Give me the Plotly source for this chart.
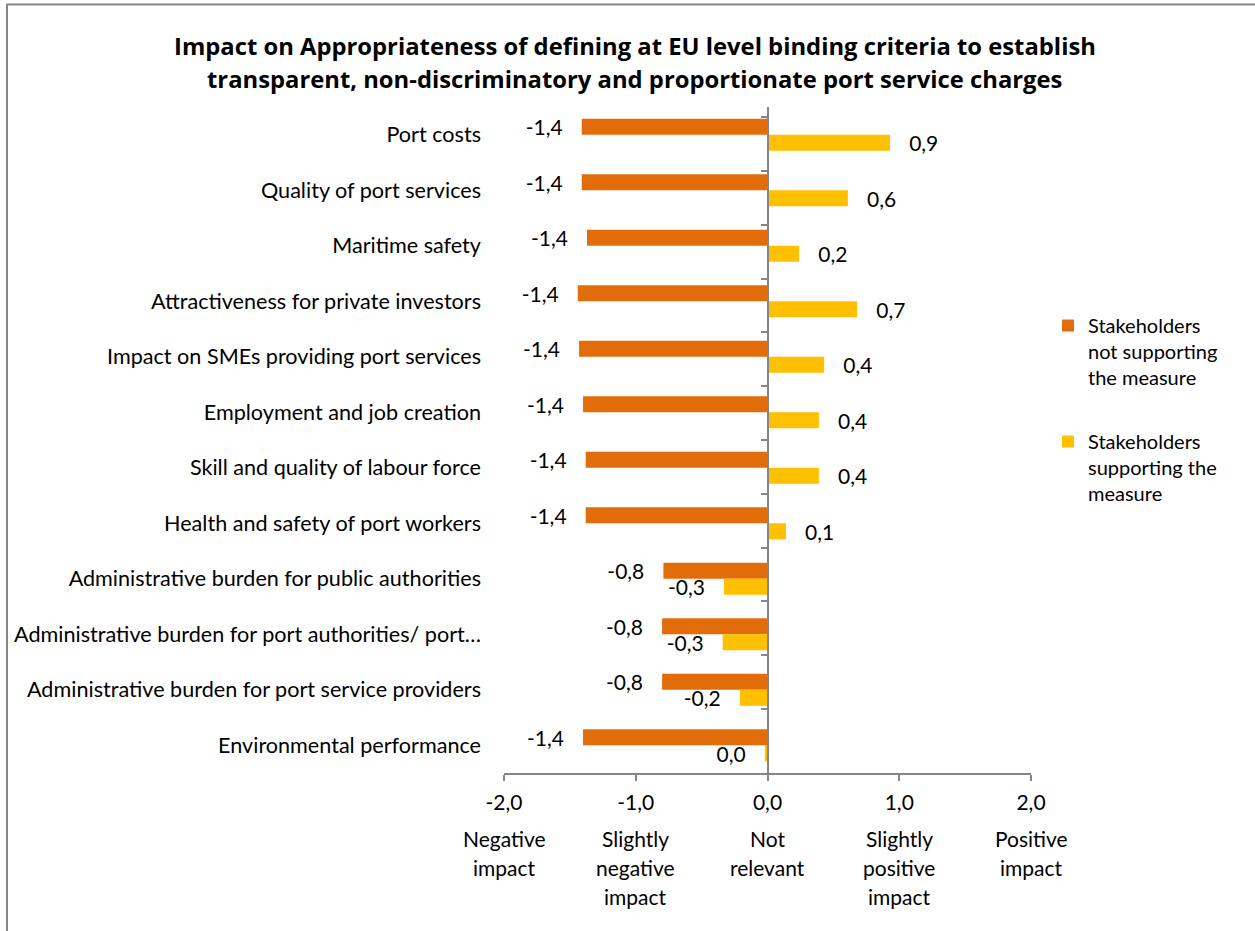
import plotly.graph_objects as go

# Impact areas, listed top to bottom
categories = [
    "Port costs",
    "Quality of port services",
    "Maritime safety",
    "Attractiveness for private investors",
    "Impact on SMEs providing port services",
    "Employment and job creation",
    "Skill and quality of labour force",
    "Health and safety of port workers",
    "Administrative burden for public authorities",
    "Administrative burden for port authorities/ port…",
    "Administrative burden for port service providers",
    "Environmental performance",
]

# Average scores per stakeholder group (-2 negative ... +2 positive)
not_supporting = [-1.41, -1.41, -1.37, -1.44, -1.43, -1.40, -1.38, -1.38, -0.79, -0.80, -0.80, -1.40]
supporting = [0.93, 0.61, 0.24, 0.68, 0.43, 0.39, 0.39, 0.14, -0.33, -0.34, -0.21, -0.02]

series_names = ["Stakeholders<br>not supporting<br>the measure",
                "Stakeholders<br>supporting the<br>measure"]

title_lines = [
    "Impact on Appropriateness of defining at EU level binding criteria to establish",
    "transparent, non-discriminatory and proportionate port service charges",
]

tick_values = [-2, -1, 0, 1, 2]
tick_numbers = ["-2,0", "-1,0", "0,0", "1,0", "2,0"]
tick_meanings = [
    ["Negative", "impact"],
    ["Slightly", "negative", "impact"],
    ["Not", "relevant"],
    ["Slightly", "positive", "impact"],
    ["Positive", "impact"],
]

ORANGE = "#E36C0A"
YELLOW = "#FFC000"
GREY = "#868686"
FONT = "Lato"
TITLE_FONT = "Open Sans"
NBSP = "\u00a0"

# pixel geometry of the plotting area
W, H = 1255, 931
L, R, T, B = 504, 224, 107, 158
PW, PH = W - L - R, H - T - B


def fmt(v):
    s = f"{v:.1f}".replace(".", ",")
    if s == "-0,0":
        s = "0,0"
    return s


def labels(values):
    out = []
    for v in values:
        s = fmt(v)
        out.append(s + NBSP * 3 if v < 0 else NBSP * 3 + s)
    return out


fig = go.Figure()

for vals, name, color, grp in [
    (not_supporting, series_names[0], ORANGE, "a"),
    (supporting, series_names[1], YELLOW, "b"),
]:
    fig.add_trace(go.Bar(
        x=vals, y=categories, orientation="h", name=name,
        marker=dict(color=color, line=dict(width=0)),
        text=labels(vals), textposition="outside", constraintext="none",
        textfont=dict(family=FONT, size=21, color="#000000"),
        cliponaxis=False, legendgroup=grp,
    ))

# invisible helper so the zero-positioned category axis gets its categories
fig.add_trace(go.Scatter(
    x=[0] * len(categories), y=categories, yaxis="y2", mode="markers",
    marker=dict(opacity=0), showlegend=False, hoverinfo="skip",
))

annotations = []
for xv, lines in zip(tick_values, tick_meanings):
    for i, line in enumerate(lines):
        annotations.append(dict(
            x=xv, y=0, xref="x", yref="paper", text=line, showarrow=False,
            xanchor="center", yanchor="middle", yshift=-(65 + 29 * i),
            font=dict(family=FONT, size=21, color="#000000"),
        ))

# two-line chart title
for i, line in enumerate(title_lines):
    annotations.append(dict(
        x=(634.5 - L) / PW, y=1, xref="paper", yref="paper", text=line,
        showarrow=False, xanchor="center", yanchor="middle",
        yshift=T - (46 + 33 * i),
        font=dict(family=TITLE_FONT, size=23.8, color="#000000", weight="bold"),
    ))

fig.update_layout(
    width=W, height=H,
    margin=dict(l=L, r=R, t=T, b=B, autoexpand=False),
    paper_bgcolor="white", plot_bgcolor="white",
    barmode="group", bargap=0.42, bargroupgap=0,
    xaxis=dict(
        range=[-2, 2], tickvals=tick_values, ticktext=tick_numbers,
        ticks="outside", ticklen=6, tickwidth=2, tickcolor=GREY,
        showline=True, linecolor=GREY, linewidth=2,
        showgrid=False, zeroline=False, ticklabelstandoff=4,
        tickfont=dict(family=FONT, size=21, color="#000000"),
    ),
    yaxis=dict(
        type="category", categoryorder="array", categoryarray=categories,
        autorange="reversed", showgrid=False, zeroline=False, showline=False,
        ticks="", ticklabelstandoff=22,
        tickfont=dict(family=FONT, size=21.6, color="#000000"),
    ),
    yaxis2=dict(
        type="category", categoryorder="array", categoryarray=categories,
        autorange="reversed", overlaying="y", anchor="free", position=0.5,
        side="left", showticklabels=False, showgrid=False, zeroline=False,
        showline=True, linecolor=GREY, linewidth=2,
        ticks="outside", tickson="boundaries", ticklen=6, tickwidth=2, tickcolor=GREY,
    ),
    legend=dict(
        x=(1048 - L) / PW, y=(H - B - 306) / PH, xanchor="left", yanchor="top",
        font=dict(family=FONT, size=20, color="#000000"),
        tracegroupgap=35, valign="top", traceorder="grouped",
        bgcolor="rgba(0,0,0,0)",
    ),
    annotations=annotations,
    shapes=[dict(
        type="rect", xref="paper", yref="paper",
        x0=(7 - L) / PW, x1=(1300 - L) / PW,
        y0=(H - B - 1000) / PH, y1=(H - B - 4.5) / PH,
        line=dict(color=GREY, width=2), fillcolor="rgba(0,0,0,0)", layer="below",
    )],
)

fig.write_html("out.html")
